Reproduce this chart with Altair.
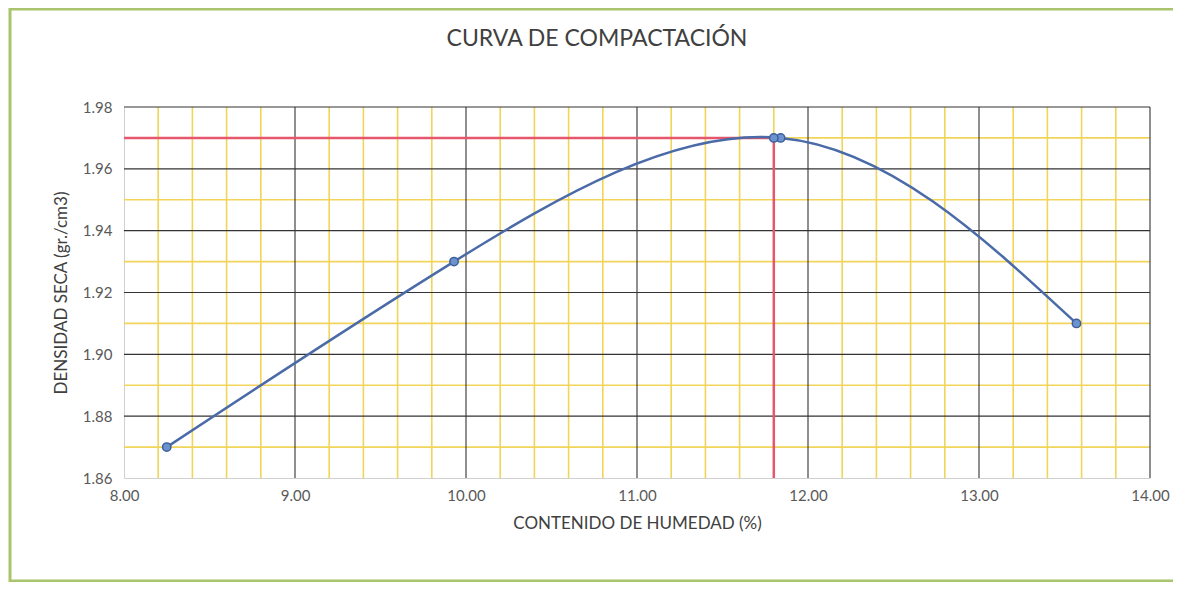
import altair as alt
import pandas as pd

# Data
humedad = [8.25, 9.93, 11.84, 13.57]
densidad = [1.87, 1.93, 1.97, 1.91]

omc = 11.80      # contenido de humedad óptimo
mdd = 1.97       # densidad seca máxima

x_major = [8, 9, 10, 11, 12, 13, 14]
y_major = [1.86, 1.88, 1.90, 1.92, 1.94, 1.96, 1.98]
x_minor = [8.2, 8.4, 8.6, 8.8, 9.2, 9.4, 9.6, 9.8, 10.2, 10.4, 10.6, 10.8,
           11.2, 11.4, 11.6, 11.8, 12.2, 12.4, 12.6, 12.8, 13.2, 13.4, 13.6, 13.8]
y_minor = [1.87, 1.89, 1.91, 1.93, 1.95, 1.97]

titulo = "CURVA DE COMPACTACIÓN"

XMIN, XMAX = 8, 14
YMIN, YMAX = 1.86, 1.98

FONT = "Lato"
W, H = 1026, 371

xs = alt.Scale(domain=[XMIN, XMAX], nice=False, zero=False)
ys = alt.Scale(domain=[YMIN, YMAX], nice=False, zero=False)

curve_df = pd.DataFrame({"x": humedad, "y": densidad})
pts_df = pd.DataFrame({"x": humedad + [omc], "y": densidad + [mdd]})

one = pd.DataFrame({"a": [0]})

# frame (green border of the chart area)
frame = alt.Chart(one).mark_rect(
    fill=None, stroke="#a9c46c", strokeWidth=3
).encode(
    x=alt.value(-114), x2=alt.value(1080),
    y=alt.value(-98), y2=alt.value(474)
)

title_txt = alt.Chart(one).mark_text(
    font=FONT, fontSize=23, color="#404040", align="center", baseline="middle"
).encode(x=alt.value(473), y=alt.value(-68), text=alt.value(titulo))

minor_v = alt.Chart(pd.DataFrame({"x": x_minor})).mark_rule(
    color="#f1d45a", strokeWidth=1.6
).encode(x=alt.X("x:Q", scale=xs), y=alt.value(0), y2=alt.value(H))

minor_h = alt.Chart(pd.DataFrame({"y": y_minor})).mark_rule(
    color="#f1d45a", strokeWidth=1.6
).encode(y=alt.Y("y:Q", scale=ys), x=alt.value(0), x2=alt.value(W))

major_v = alt.Chart(pd.DataFrame({"x": x_major[1:]})).mark_rule(
    color="#333333", strokeWidth=1.1
).encode(x=alt.X("x:Q", scale=xs), y=alt.value(0), y2=alt.value(H))

major_h = alt.Chart(pd.DataFrame({"y": y_major[1:]})).mark_rule(
    color="#333333", strokeWidth=1.1
).encode(y=alt.Y("y:Q", scale=ys), x=alt.value(0), x2=alt.value(W))

red_h = alt.Chart(pd.DataFrame({"x": [XMIN], "x2": [omc], "y": [mdd]})).mark_rule(
    color="#e5576c", strokeWidth=2.5
).encode(x=alt.X("x:Q", scale=xs), x2="x2:Q", y=alt.Y("y:Q", scale=ys))

red_v = alt.Chart(pd.DataFrame({"x": [omc], "y": [YMIN], "y2": [mdd]})).mark_rule(
    color="#e5576c", strokeWidth=2.5
).encode(x=alt.X("x:Q", scale=xs), y=alt.Y("y:Q", scale=ys), y2="y2:Q")

curve = alt.Chart(curve_df).mark_line(
    color="#4a6aa8", strokeWidth=2.5, interpolate="natural"
).encode(
    x=alt.X("x:Q", scale=xs,
            axis=alt.Axis(values=x_major, format=".2f", grid=False, ticks=False,
                          domain=True, domainColor="#d0d0d0",
                          labelFont=FONT, labelFontSize=15, labelColor="#595959",
                          labelPadding=10, title="CONTENIDO DE HUMEDAD (%)",
                          titleFont=FONT, titleFontSize=17, titleFontWeight="normal",
                          titleColor="#404040", titlePadding=12, labelFlush=False)),
    y=alt.Y("y:Q", scale=ys,
            axis=alt.Axis(values=y_major, format=".2f", grid=False, ticks=False,
                          domain=True, domainColor="#d0d0d0",
                          labelFont=FONT, labelFontSize=15, labelColor="#595959",
                          labelPadding=12, title="DENSIDAD SECA (gr./cm3)",
                          titleFont=FONT, titleFontSize=17, titleFontWeight="normal",
                          titleColor="#404040", titlePadding=12, labelFlush=False)),
)

points = alt.Chart(pts_df).mark_point(
    shape="circle", filled=True, fill="#6c93d0", stroke="#3d5f9e",
    strokeWidth=1.5, size=70, opacity=1
).encode(x=alt.X("x:Q", scale=xs), y=alt.Y("y:Q", scale=ys))

chart = alt.layer(
    frame, title_txt, minor_v, minor_h, major_v, major_h, red_h, red_v, curve, points
).properties(
    width=W, height=H,
    padding={"left": 116, "top": 99, "right": 23, "bottom": 104},
    autosize=alt.AutoSizeParams(type="none"),
    background="white",
).configure_view(stroke=None)

chart.save("out.html", embed_options={"renderer": "svg", "actions": False})
